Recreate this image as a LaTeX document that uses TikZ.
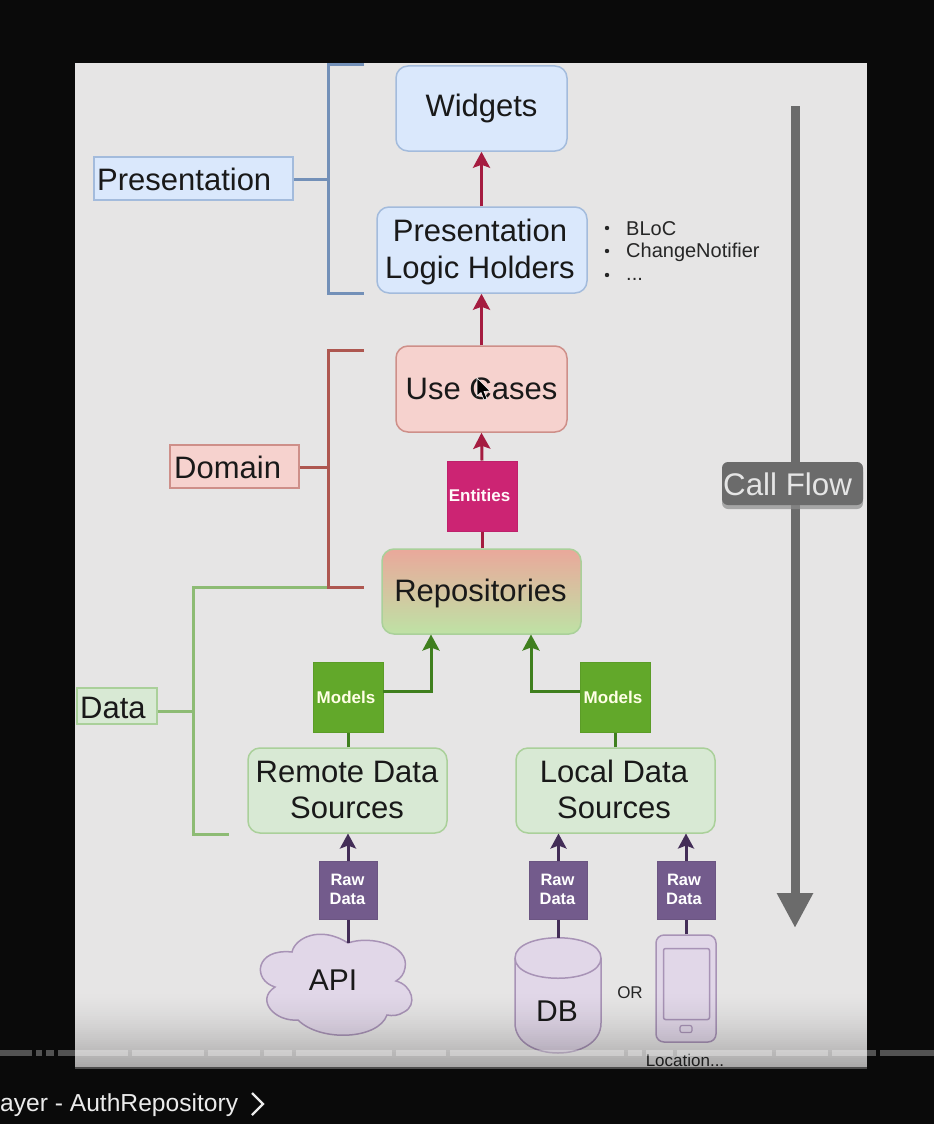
\documentclass[tikz,border=0pt]{standalone}
\usepackage{fontspec}
\setmainfont{Liberation Sans}
\usetikzlibrary{arrows.meta}
\definecolor{pagebg}{HTML}{0A0A0A}
\definecolor{panel}{HTML}{E6E5E5}
\definecolor{blueF}{HTML}{DAE8FC}\definecolor{blueS}{HTML}{7390B8}\definecolor{blueL}{HTML}{A3BBDC}
\definecolor{redF}{HTML}{F6D2CE}\definecolor{redS}{HTML}{AE5750}\definecolor{redL}{HTML}{CE8F89}
\definecolor{greenF}{HTML}{D8E9D4}\definecolor{greenS}{HTML}{8DBB74}\definecolor{greenL}{HTML}{AAD09A}
\definecolor{purF}{HTML}{E1D7E8}\definecolor{purS}{HTML}{A893B6}
\definecolor{crim}{HTML}{A51C40}\definecolor{darkgr}{HTML}{3F7F1E}\definecolor{darkpu}{HTML}{432D57}
\definecolor{entF}{HTML}{CC2473}\definecolor{modF}{HTML}{62A82A}\definecolor{rawF}{HTML}{735B8C}
\definecolor{flow}{HTML}{6B6B6B}
\definecolor{repoT}{HTML}{EAA89B}\definecolor{repoB}{HTML}{BEE2A5}
\newcommand{\fsz}[1]{\fontsize{#1}{#1}\selectfont}
\tikzset{
  box/.style n args={3}{draw=#2,fill=#1,line width=1.5pt,rounded corners=12pt,inner sep=0pt,minimum width=#3},
  bigtxt/.style={font=\fsz{31},text=black!90,align=center},
  chip/.style n args={2}{draw=#1!93!black,fill=#1,inner sep=0pt,line width=1pt,minimum width=#2,minimum height=#2,text=white,font=\bfseries\fsz{17},align=center},
  bracket/.style={draw=#1,line width=3pt},
  redarrow/.style={draw=crim,line width=3pt,-{Stealth[length=16pt,width=17pt,inset=3pt]}},
  grnarrow/.style={draw=darkgr,line width=3pt,-{Stealth[length=16pt,width=17pt,inset=3pt]}},
  purarrow/.style={draw=darkpu,line width=3pt,-{Stealth[length=15pt,width=16pt,inset=3pt]}},
  plainline/.style={draw=#1,line width=3pt},
  small/.style={font=\fsz{#1},text=black!85,inner sep=0pt},
  segm/.style={fill=white,fill opacity=.3,draw=none},
}
\begin{document}
\begin{tikzpicture}[x=1pt,y=-1pt]
\useasboundingbox (0,0) rectangle (934,1124);
\fill[pagebg] (0,0) rectangle (934,1124);
\fill[panel] (75,63) rectangle (867,1068);

% Main column
\node[box={blueF}{blueL}{171pt},minimum height=85pt] (widgets) at (481.5,108.5) {};
\node[bigtxt,inner sep=0pt] (widgetst) at (481.5,108.5) {Widgets};
\node[box={blueF}{blueL}{210pt},minimum height=86pt] (plh) at (482,250) {};
\node[bigtxt,inner sep=0pt] (plh1) at (480,230.5) {Presentation};
\node[bigtxt,inner sep=0pt] (plh2) at (480,270) {Logic Holders};
\node[box={redF}{redL}{171pt},minimum height=86pt,bigtxt] (uc) at (481.5,389) {Use Cases};
\node[chip={entF}{70pt}] (ent) at (482,496) {};
\node[text=white!90!pink,font=\bfseries\fsz{17},inner sep=0pt] (entt) at (479.5,495) {Entities};
\node[draw=greenL,line width=1.5pt,rounded corners=12pt,inner sep=0pt,minimum width=199pt,minimum height=85pt,top color=repoT,bottom color=repoB] (repo) at (481.5,591.5) {};
\node[bigtxt,inner sep=0pt] (repot) at (480.5,593) {Repositories};

\node[chip={modF}{70pt}] (modL) at (348,697) {};
\node[chip={modF}{70pt}] (modR) at (615,697) {};
\node[text=white!90!yellow,font=\bfseries\fsz{17},inner sep=0pt] (modLt) at (346,697) {Models};
\node[text=white!90!yellow,font=\bfseries\fsz{17},inner sep=0pt] (modRt) at (613,697) {Models};
\node[box={greenF}{greenL}{199pt},minimum height=85pt] (remote) at (347.5,790.5) {};
\node[bigtxt,inner sep=0pt] (remote1) at (347,771.5) {Remote Data};
\node[bigtxt,inner sep=0pt] (remote2) at (347,808) {Sources};
\node[box={greenF}{greenL}{199pt},minimum height=85pt] (local) at (615.5,790.5) {};
\node[bigtxt,inner sep=0pt] (local1) at (614,771.5) {Local Data};
\node[bigtxt,inner sep=0pt] (local2) at (614,808) {Sources};

\node[chip={rawF}{58pt}] (rawA) at (348,890) {};
\node[chip={rawF}{58pt}] (rawB) at (558.5,890) {};
\node[chip={rawF}{58pt}] (rawC) at (686,890) {};
\foreach \n/\x in {a/347.5,b/557.5,c/684}{
  \node[text=white,font=\bfseries\fsz{16.5},inner sep=0pt] (rt\n) at (\x,879.5) {Raw};
  \node[text=white,font=\bfseries\fsz{16.5},inner sep=0pt] (rd\n) at (\x,899) {Data};
}

% API cloud
\coordinate (cloudtop) at (348,943);
\draw[draw=purS,fill=purF,line width=1.5pt]
  (292,952) .. controls (295,938) and (320,925) .. (348,943)
  .. controls (370,935) and (410,945) .. (405,968)
  .. controls (404,974) and (401,978) .. (396,981)
  .. controls (412,985) and (418,1005) .. (404,1012)
  .. controls (398,1016) and (392,1016) .. (387,1015)
  .. controls (378,1040) and (320,1042) .. (298,1020)
  .. controls (275,1022) and (255,1000) .. (275,987)
  .. controls (252,980) and (255,948) .. (292,952) -- cycle;
\node[small=30,text=black!90] (api) at (333,980) {API};

% DB cylinder
\node[inner sep=0pt,minimum width=86pt,minimum height=115pt] (db) at (558,995.5) {};
\draw[draw=purS,fill=purF,line width=1.5pt]
  (515,958) .. controls (515,931) and (601,931) .. (601,958)
  -- (601,1023) .. controls (601,1063) and (515,1063) .. (515,1023) -- cycle;
\draw[draw=purS,line width=1.5pt] (515,958) .. controls (515,985) and (601,985) .. (601,958);
\node[small=30,text=black!90] (dbt) at (557,1011) {DB};

% Phone
\node[draw=purS,fill=purF,line width=1.5pt,rounded corners=8pt,inner sep=0pt,minimum width=60pt,minimum height=107pt] (phone) at (686,988.5) {};
\node[draw=purS,fill=purF,line width=1.5pt,rounded corners=2pt,inner sep=0pt,minimum width=46pt,minimum height=71pt] (screen) at (686.5,984) {};
\node[draw=purS,fill=purF,line width=1.2pt,rounded corners=2pt,inner sep=0pt,minimum width=12pt,minimum height=7pt] (btn) at (686,1029) {};

\node[small=17] (or) at (630,993) {OR};
\node[small=17] (loc) at (685,1060) {Location...};

% connectors
\draw[redarrow] (plh.north -| widgets.south) -- (widgets.south);
\draw[redarrow] (uc.north) -- (plh.south -| uc.north);
\draw[redarrow] (ent.north) -- (uc.south);
\draw[plainline=crim] (repo.north -| ent.south) -- (ent.south);
\coordinate (repoL) at (431,634.5);
\coordinate (repoR) at (531,634.5);
\coordinate (mLy) at (383,691);
\coordinate (mRy) at (580,691);
\draw[grnarrow] (mLy) -| (repoL);
\draw[grnarrow] (mRy) -| (repoR);
\draw[plainline=darkgr] (remote.north -| modL.south) -- (modL.south);
\draw[plainline=darkgr] (local.north -| modR.south) -- (modR.south);
\coordinate (remA) at (348,833.5);
\coordinate (locB) at (558.5,833.5);
\coordinate (locC) at (686,833.5);
\draw[purarrow] (rawA.north) -- (remA);
\draw[purarrow] (rawB.north) -- (locB);
\draw[purarrow] (rawC.north) -- (locC);
\draw[plainline=darkpu] (cloudtop) -- (rawA.south);
\draw[plainline=darkpu] (db.north -| rawB.south) -- (rawB.south);
\draw[plainline=darkpu] (phone.north) -- (rawC.south);

% Layer labels and brackets
\node[draw=blueL,fill=blueF,line width=1.5pt,minimum width=199pt,minimum height=43pt] (pres) at (193.5,178.5) {};
\node[draw=redL,fill=redF,line width=1.5pt,minimum width=129pt,minimum height=43pt] (dom) at (234.5,466.5) {};
\node[draw=greenL,fill=greenF,line width=1.5pt,minimum width=80pt,minimum height=36pt] (dat) at (117,706) {};
\node[bigtxt,inner sep=0pt,anchor=west] (prest) at (97,179) {Presentation};
\node[bigtxt,inner sep=0pt,anchor=west] (domt) at (174,467) {Domain};
\node[bigtxt,inner sep=0pt,anchor=west] (datt) at (80,708) {Data};

\coordinate (pT) at (364,65);\coordinate (pB) at (364,293);\coordinate (pM) at (328,179);
\coordinate (dT) at (364,350);\coordinate (dB) at (364,587);\coordinate (dM) at (328,467);
\coordinate (gT) at (328,587);\coordinate (gB) at (229,834);\coordinate (gM) at (193,711);
\draw[bracket=blueS] (pT) -- (328,65) -- (328,293) -- (pB);
\draw[bracket=blueS] (pres.east |- pM) -- (pM);
\draw[bracket=greenS] (gT) -- (193,587) -- (193,834) -- (gB);
\draw[bracket=greenS] (dat.east |- gM) -- (gM);
\draw[bracket=redS] (dT) -- (328,350) -- (328,587) -- (dB);
\draw[bracket=redS] (dom.east |- dM) -- (dM);

% bullet list
\fill[black!85] (607,228) circle[radius=2.2pt];
\fill[black!85] (607,251) circle[radius=2.2pt];
\fill[black!85] (607,275) circle[radius=2.2pt];
\node[small=20,anchor=west] (liu) at (626,229) {BLoC};
\node[small=20,anchor=west] (liv) at (626,252) {ChangeNotifier};
\node[small=20,anchor=west] (liw) at (626,279) {...};

% Call flow
\coordinate (cfTop) at (795,106);
\coordinate (cfBot) at (795,928);
\draw[draw=flow,line width=9pt,-{Triangle[length=35pt,width=34pt]}] (cfTop) -- (cfBot);
\fill[black!45,rounded corners=6pt,opacity=.7] (722,466) rectangle (863,509);
\node[fill=flow,rounded corners=6pt,inner sep=0pt,minimum width=141pt,minimum height=43pt] (cf) at (792.5,483.5) {};
\node[text=white!90!black,font=\fsz{31.3},inner sep=0pt,anchor=west] (cft) at (723,484) {Call Flow};

% Mouse pointer
\draw[fill=black,draw=white,line width=.6pt] (477,378) -- (477,396) -- (481,392.5) -- (484,400) -- (487,398.5) -- (484,391.5) -- (490,391) -- cycle;

% Video overlay: the panel darkens towards its foot
\foreach \i in {0,...,38}{
  \pgfmathsetmacro{\yy}{990+2*\i}
  \pgfmathsetmacro{\op}{0.27*((\i+0.5)/39)^1.6}
  \fill[black,opacity=\op] (75,\yy) rectangle (867,\yy+2);
}
\fill[black!70] (75,1067) rectangle (867,1069);
\foreach \a/\b in {0/32,36/42,46/54,58/128,132/204,208/260,264/292,296/392,396/446,450/624,628/642,646/673,677/772,776/828,832/876,880/934}{
  \fill[segm] (\a,1050) rectangle (\b,1056);
}

% Video title
\node[font=\fsz{24.6},text=white!92!black,inner sep=0pt,anchor=west] (title) at (0,1105) {ayer - AuthRepository};
\node[inner sep=0pt,minimum size=1pt] (chev) at (252,1104) {};
\draw[white!92!black,line width=2.4pt] (chev.center) ++(0,-11) -- ++(11,11) -- ++(-11,11);
\end{tikzpicture}
\end{document}
